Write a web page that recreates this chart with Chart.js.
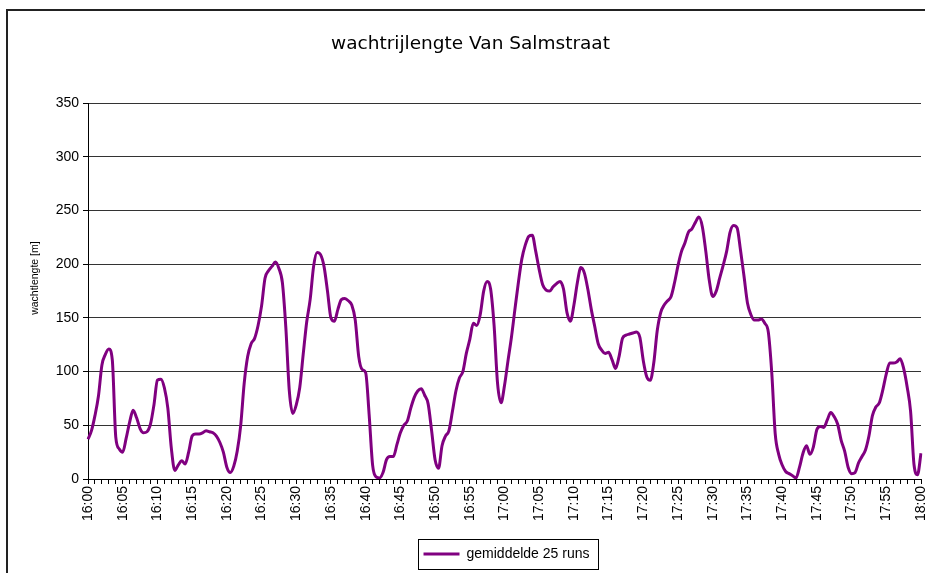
<!DOCTYPE html>
<html>
<head>
<meta charset="utf-8">
<script src="https://cdn.jsdelivr.net/npm/chart.js@4"></script>
<style>
  html, body { margin: 0; padding: 0; background: #fff; overflow: hidden; }
  #wrap { position: relative; width: 925px; height: 573px; }
  #frame { position: absolute; left: 6px; top: 9px; width: 1000px; height: 1000px;
           border-left: 2px solid #222; border-top: 2px solid #222; }
  #c { position: absolute; left: 0; top: 0; }
</style>
</head>
<body>
<div id="wrap">
  <div id="frame"></div>
  <canvas id="c" width="925" height="573"></canvas>
</div>
<script>
// tick labels on the time axis (every 5 minutes)
const tickLabels = ["16:00", "16:05", "16:10", "16:15", "16:20", "16:25", "16:30", "16:35",
    "16:40", "16:45", "16:50", "16:55", "17:00", "17:05", "17:10", "17:15", "17:20",
    "17:25", "17:30", "17:35", "17:40", "17:45", "17:50", "17:55", "18:00"];
const yTicks = [0, 50, 100, 150, 200, 250, 300, 350];

// queue length [m], one value per 30 seconds, one row per 5 minutes
const gemiddelde = [
    37, 45, 59, 77, 106, 116, 121, 111, 39, 28,       // 16:00
    25, 38, 53, 64, 57, 47, 43, 44, 51, 69,           // 16:05
    92, 93, 85, 66, 29, 8, 13, 17, 14, 25,            // 16:10
    40, 42, 42, 43, 45, 44, 43, 40, 34, 25,           // 16:15
    11, 6, 12, 26, 50, 89, 114, 126, 131, 143,        // 16:20
    161, 187, 194, 198, 202, 196, 183, 141, 82, 61,   // 16:25
    69, 85, 116, 146, 167, 198, 211, 209, 198, 175,   // 16:30
    150, 147, 158, 167, 168, 166, 162, 148, 114, 102, // 16:35
    99, 60, 13, 2, 1, 6, 18, 21, 21, 32,              // 16:40
    43, 50, 54, 66, 76, 82, 84, 78, 70, 45,           // 16:45
    18, 10, 31, 40, 45, 63, 82, 94, 100, 117,         // 16:50
    130, 145, 143, 153, 175, 184, 177, 143, 89, 71,   // 16:55
    87, 110, 132, 158, 183, 205, 218, 226, 227, 212,  // 17:00
    195, 181, 176, 175, 179, 182, 184, 177, 155, 147, // 17:05
    162, 183, 197, 192, 177, 158, 142, 126, 120, 117, // 17:10
    118, 111, 103, 114, 131, 134, 135, 136, 137, 132, // 17:15
    110, 95, 92, 108, 138, 155, 162, 166, 170, 183,   // 17:20
    199, 212, 220, 230, 233, 239, 244, 235, 212, 185, // 17:25
    170, 175, 187, 199, 212, 230, 236, 234, 213, 189, // 17:30
    164, 153, 148, 148, 149, 145, 137, 99, 42, 23,    // 17:35
    13, 7, 5, 3, 1, 11, 24, 31, 23, 30,               // 17:40
    46, 49, 48, 55, 62, 58, 51, 36, 26, 11,           // 17:45
    5, 6, 15, 21, 27, 40, 59, 67, 71, 83,             // 17:50
    98, 108, 108, 109, 112, 103, 86, 63, 13, 4,       // 17:55
    24                                                // 18:00
];

// half-minute categories between the 5-minute tick labels
const times = [];
for (let i = 0; i < gemiddelde.length; i++) {
    const min = Math.floor(i / 2);
    const h = 16 + Math.floor(min / 60);
    const mm = String(min % 60).padStart(2, "0");
    times.push(i % 2 === 0 ? h + ":" + mm : h + ":" + mm + ":30");
}

const AX = "#000";
const tickFont = { family: "'Liberation Sans', Arial, sans-serif", size: 14 };

// move title and legend a bit to the right, like in the original, and frame the legend
const legendFrame = {
    id: "legendFrame",
    afterLayout(chart) {
        chart.legend.left += 46;
        chart.legend.right += 46;
        chart.titleBlock.left += 10;
        chart.titleBlock.right += 10;
    },
    afterDraw(chart) {
        const hb = chart.legend.legendHitBoxes[0];
        if (!hb) return;
        const ctx = chart.ctx;
        const cy = hb.top + hb.height / 2;
        ctx.save();
        ctx.strokeStyle = "#000";
        ctx.lineWidth = 1;
        ctx.strokeRect(Math.round(hb.left - 6) + 0.5, Math.round(cy - 15) + 0.5,
            Math.round(hb.width + 14), 30);
        ctx.restore();
    }
};

new Chart(document.getElementById("c"), {
    type: "line",
    data: {
        labels: times,
        datasets: [{
            label: "gemiddelde 25 runs",
            data: gemiddelde,
            borderColor: "#800080",
            backgroundColor: "#800080",
            borderWidth: 3,
            pointRadius: 0,
            cubicInterpolationMode: "monotone",
            fill: false
        }]
    },
    options: {
        responsive: false,
        animation: false,
        layout: { padding: { left: 0, right: 4, top: 0, bottom: 2 } },
        plugins: {
            title: {
                display: true,
                text: "wachtrijlengte Van Salmstraat",
                color: "#000",
                font: { family: "'DejaVu Sans', Tahoma, sans-serif", size: 18.5, weight: "normal" },
                padding: { top: 33, bottom: 48 }
            },
            legend: {
                position: "bottom",
                labels: {
                    color: "#000",
                    font: { family: "'Liberation Sans', Arial, sans-serif", size: 14 },
                    usePointStyle: true,
                    pointStyle: "line",
                    pointStyleWidth: 36,
                    padding: 10
                }
            },
            tooltip: { enabled: false }
        },
        scales: {
            x: {
                afterFit(scale) {
                    scale.height = 58;
                    scale.paddingRight = 0;
                    scale.paddingLeft = 0;
                },
                border: { color: AX, width: 1 },
                grid: {
                    drawOnChartArea: false,
                    tickLength: 5,
                    tickColor: (c) => (c.index % 2 === 0 ? AX : "rgba(0,0,0,0)")
                },
                ticks: {
                    autoSkip: false,
                    minRotation: 90,
                    maxRotation: 90,
                    padding: 2,
                    color: AX,
                    font: tickFont,
                    callback: function (val, i) {
                        return i % 10 === 0 ? tickLabels[i / 10] : "";
                    }
                }
            },
            y: {
                min: 0,
                max: 350,
                afterFit(scale) {
                    scale.width = 88;
                    scale.paddingTop = 0;
                    // axis title sits a little above the middle in the original
                    if (!scale._titleShifted) {
                        const draw = scale.drawTitle;
                        scale.drawTitle = function () {
                            const b = this.bottom;
                            this.bottom = b - 26;
                            draw.call(this);
                            this.bottom = b;
                        };
                        scale._titleShifted = true;
                    }
                },
                afterBuildTicks(scale) { scale.ticks = yTicks.map(v => ({ value: v })); },
                border: { color: AX, width: 1 },
                grid: { color: "#333", lineWidth: 1, tickLength: 5, tickColor: AX },
                ticks: { color: AX, font: tickFont, padding: 4 },
                title: {
                    display: true,
                    text: "wachtlengte [m]",
                    color: AX,
                    font: { family: "'Liberation Sans', Arial, sans-serif", size: 10.5 },
                    padding: { top: 29, bottom: 4 }
                }
            }
        }
    },
    plugins: [legendFrame]
});
</script>
</body>
</html>
